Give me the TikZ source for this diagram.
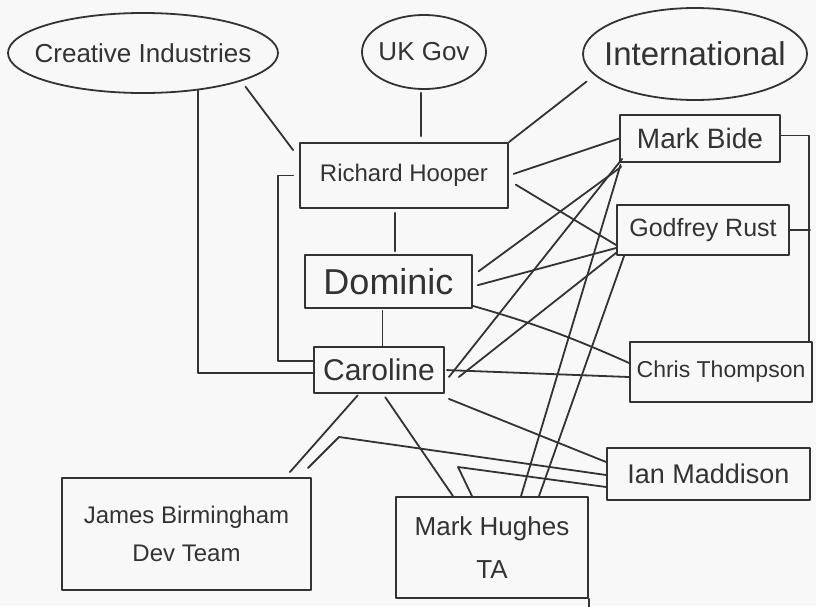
\documentclass[tikz,border=0pt]{standalone}
\usepackage{fontspec}
\setmainfont{Liberation Sans}
\usetikzlibrary{shapes.geometric}
\definecolor{paper}{HTML}{F8F8F8}
\definecolor{ink}{HTML}{333333}
\begin{document}
\begin{tikzpicture}[x=1pt,y=-1pt,
  pen/.style={draw=ink, line width=1.8pt, line cap=round, line join=round},
  hand/.style 2 args={font=\fontsize{#1}{#2}\selectfont, text=ink},
  card/.style={pen, rectangle, inner sep=0pt, align=center},
  oval/.style={pen, ellipse, inner sep=0pt},
  link/.style={pen}]

% sheet
\fill[paper] (0,0) rectangle (816,606);
\useasboundingbox (0,0) rectangle (816,606);

% stakeholder groups
\node[oval, minimum width=270, minimum height=80,
      label={[hand={26}{30}]center:Creative Industries}] (ci) at (143,53) {};
\node[oval, minimum width=124, minimum height=74,
      label={[hand={26}{30}]center:UK Gov}] (uk) at (424,52) {};
\node[oval, minimum width=224, minimum height=92,
      label={[hand={33}{37}]center:International}] (intl) at (695,54) {};

% people
\node[card, hand={24}{28}, minimum width=208, minimum height=65] (rh) at (404,175.5) {Richard Hooper};
\node[card, hand={36}{40}, minimum width=167, minimum height=53] (dom) at (388.5,281.5) {Dominic};
\node[card, hand={30}{34}, minimum width=130, minimum height=46] (car) at (379,370) {Caroline};
\node[card, hand={28}{32}, minimum width=160, minimum height=47] (mb) at (700,138.5) {Mark Bide};
\node[card, hand={25}{29}, minimum width=172, minimum height=50] (gr) at (703,230) {Godfrey Rust};
\node[card, hand={23}{27}, minimum width=182, minimum height=60] (ct) at (721,372) {Chris Thompson};
\node[card, hand={27}{31}, minimum width=203, minimum height=52] (im) at (708.5,474) {Ian Maddison};
\node[card, hand={24}{38}, minimum width=249, minimum height=112] (jb) at (186.5,534) {James Birmingham\\Dev Team};
\node[card, hand={26}{43}, minimum width=192, minimum height=101] (mh) at (492,547.5) {Mark Hughes\\TA};

% bend points of the two long links from Ian Maddison
\coordinate (kinkA) at (339,437);
\coordinate (kinkB) at (458,467);

% links from the groups
\draw[link] (ci.-34) |- ([yshift=-3]car.west);
\draw[link, shorten <=7pt] (ci.-16) -- ([shift={(-6,8)}]rh.north west);
\draw[link, shorten <=3pt, shorten >=6pt] ([xshift=-3]uk.south) -- ([xshift=17]rh.north);
\draw[link, shorten <=10pt] (intl.192) -- (rh.north east);

% management chain
\draw[link] ([xshift=-6]rh.west) -- ([xshift=-21]rh.west) |- ([yshift=9]car.west);
\draw[link, shorten <=4pt, shorten >=3pt] ([xshift=-9]rh.south) -- ([xshift=-9]rh.south |- dom.north);
\draw[link, shorten <=2pt] ([xshift=-6]dom.south) -- ([xshift=-6]dom.south |- car.north);

% links to the right-hand column
\draw[link, shorten <=5pt] (rh.east) -- (mb.west);
\draw[link, shorten <=8pt] ([yshift=-5]rh.east) -- ([yshift=-15]gr.west);
\draw[link, shorten <=7pt] ([yshift=6]dom.east) -- ([shift={(2,4)}]mb.south west);
\draw[link, shorten <=5pt] ([yshift=-5]dom.east) -- ([yshift=-18]gr.west);
\draw[link] ([yshift=3]dom.south east) to[bend left=4] ([yshift=9]ct.west);
\draw[link] ([shift={(4,7)}]car.east) -- ([shift={(3,-4)}]mb.south west);
\draw[link] ([shift={(14,7)}]car.east) -- ([yshift=3]gr.south west);
\draw[link, shorten <=2pt] (car.east) -- ([yshift=-5]ct.west);
\draw[link] ([shift={(4,5)}]car.south east) -- ([yshift=12]im.west);

% links down to the teams
\draw[link, shorten <=2pt] ([xshift=-20]car.south) -- ([shift={(-22,-5)}]jb.north east);
\draw[link, shorten <=4pt] ([xshift=4]car.south) -- ([xshift=-39]mh.north);
\draw[link] ([yshift=-1]im.west) -- (kinkA) -- ([shift={(-4,-9)}]jb.north east);
\draw[link] ([yshift=-13]im.west) -- (kinkB) -- ([xshift=-20]mh.north);
\draw[link, shorten >=2pt] ([xshift=29]mh.north) -- ([xshift=2]mb.south west);
\draw[link] ([xshift=47]mh.north) -- ([xshift=8]gr.south west);

% bus on the right edge
\draw[link] ([yshift=3]mb.east) -| ([xshift=-4]ct.north east);
\draw[link] (gr.east) -- ([xshift=20]gr.east);
\draw[link] (mh.south east) -- ++(0,10);
\end{tikzpicture}
\end{document}
